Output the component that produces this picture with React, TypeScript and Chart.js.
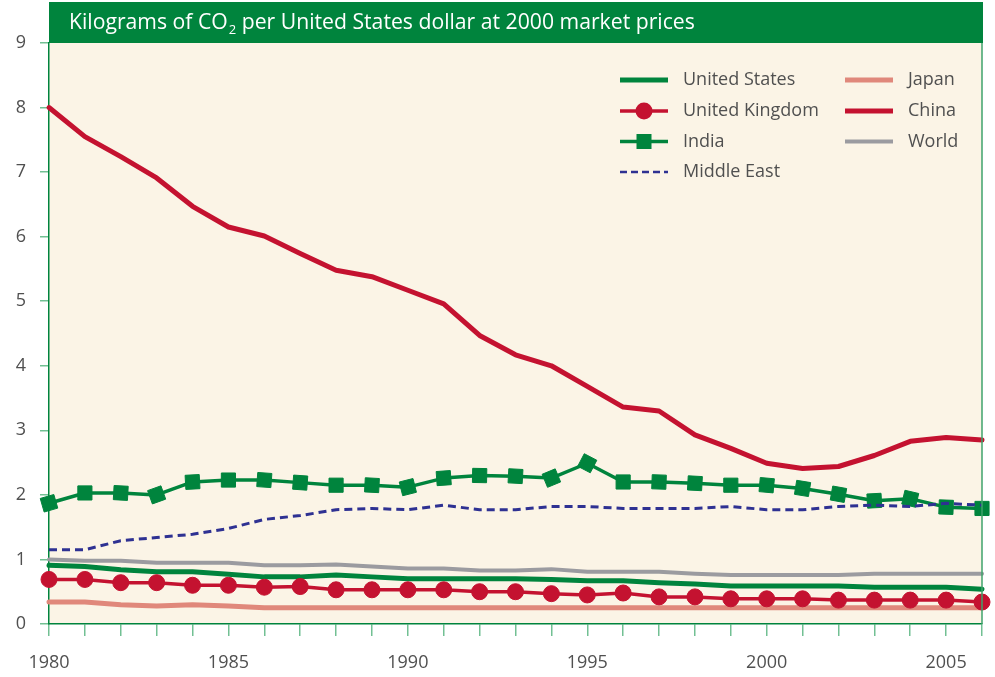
import React, { useEffect, useRef } from "react";
import { Chart, registerables } from "chart.js";

Chart.register(...registerables);

const years = [
  "1980", "1981", "1982", "1983", "1984", "1985", "1986", "1987", "1988", "1989",
  "1990", "1991", "1992", "1993", "1994", "1995", "1996", "1997", "1998", "1999",
  "2000", "2001", "2002", "2003", "2004", "2005", "2006",
];
const yTicks = [0, 1, 2, 3, 4, 5, 6, 7, 8, 9];

const unitedStates = [0.91, 0.89, 0.84, 0.81, 0.81, 0.77, 0.73, 0.73, 0.76, 0.73, 0.70, 0.70, 0.70, 0.70, 0.69, 0.67, 0.67, 0.64, 0.62, 0.59, 0.59, 0.59, 0.59, 0.57, 0.57, 0.57, 0.54];
const unitedKingdom = [0.69, 0.69, 0.64, 0.64, 0.60, 0.60, 0.57, 0.58, 0.53, 0.53, 0.53, 0.53, 0.50, 0.50, 0.47, 0.45, 0.48, 0.42, 0.42, 0.39, 0.39, 0.39, 0.37, 0.37, 0.37, 0.37, 0.34];
const india = [1.87, 2.03, 2.03, 2.00, 2.20, 2.23, 2.23, 2.19, 2.15, 2.15, 2.12, 2.26, 2.30, 2.29, 2.26, 2.49, 2.20, 2.20, 2.18, 2.15, 2.15, 2.10, 2.01, 1.91, 1.94, 1.81, 1.79];
const middleEast = [1.15, 1.15, 1.29, 1.34, 1.39, 1.48, 1.62, 1.68, 1.77, 1.79, 1.77, 1.84, 1.77, 1.77, 1.82, 1.82, 1.79, 1.79, 1.79, 1.82, 1.77, 1.77, 1.82, 1.84, 1.82, 1.87, 1.84];
const japan = [0.34, 0.34, 0.30, 0.28, 0.30, 0.28, 0.25, 0.25, 0.25, 0.25, 0.25, 0.25, 0.25, 0.25, 0.25, 0.25, 0.25, 0.25, 0.25, 0.25, 0.25, 0.25, 0.25, 0.25, 0.25, 0.25, 0.25];
const china = [8.00, 7.55, 7.24, 6.91, 6.47, 6.15, 6.01, 5.74, 5.48, 5.38, 5.17, 4.96, 4.47, 4.17, 4.00, 3.68, 3.36, 3.30, 2.93, 2.72, 2.49, 2.41, 2.44, 2.61, 2.83, 2.89, 2.85];
const world = [1.00, 0.98, 0.98, 0.95, 0.95, 0.95, 0.91, 0.91, 0.92, 0.89, 0.86, 0.86, 0.83, 0.83, 0.85, 0.81, 0.81, 0.81, 0.78, 0.76, 0.76, 0.76, 0.76, 0.78, 0.78, 0.78, 0.78];

const titleMain = "Kilograms of CO";
const titleSub = "2";
const titleRest = " per United States dollar at 2000 market prices";

const GREEN = "#00843D";
const RED = "#C41230";
const SALMON = "#E0887B";
const GREY = "#9B9BA0";
const NAVY = "#2E3192";
const TICK_GREEN = "#72C093";
const CREAM = "#FBF4E6";
const TEXT = "#505050";
const FONT = "'Open Sans', 'Noto Sans', sans-serif";

type LegendItem = {
  label: string;
  color: string;
  width: number;
  dash?: number[];
  marker?: "circle" | "square";
};

const legendCol1: LegendItem[] = [
  { label: "United States", color: GREEN, width: 5 },
  { label: "United Kingdom", color: RED, width: 3.5, marker: "circle" },
  { label: "India", color: GREEN, width: 3.5, marker: "square" },
  { label: "Middle East", color: NAVY, width: 2.5, dash: [7, 4] },
];
const legendCol2: LegendItem[] = [
  { label: "Japan", color: SALMON, width: 5 },
  { label: "China", color: RED, width: 5 },
  { label: "World", color: GREY, width: 4 },
];

const framePlugin = {
  id: "frame",
  beforeDraw(chart: any) {
    const { ctx, chartArea } = chart;
    ctx.save();
    ctx.fillStyle = CREAM;
    ctx.fillRect(chartArea.left, chartArea.top, chartArea.right - chartArea.left, chartArea.bottom - chartArea.top);
    // title bar
    ctx.fillStyle = GREEN;
    ctx.fillRect(chartArea.left, 2, chartArea.right - chartArea.left + 1, chartArea.top - 2);
    ctx.fillStyle = "#ffffff";
    ctx.textBaseline = "middle";
    ctx.textAlign = "left";
    const ty = (2 + chartArea.top) / 2;
    let tx = chartArea.left + 20;
    ctx.font = `21.2px ${FONT}`;
    ctx.fillText(titleMain, tx, ty);
    tx += ctx.measureText(titleMain).width;
    ctx.font = `13px ${FONT}`;
    ctx.fillText(titleSub, tx + 1, ty + 8);
    tx += ctx.measureText(titleSub).width + 1;
    ctx.font = `21.2px ${FONT}`;
    ctx.fillText(titleRest, tx, ty);
    ctx.restore();
  },
  afterDraw(chart: any) {
    const { ctx, chartArea } = chart;
    ctx.save();
    // right border
    ctx.strokeStyle = "#3FA36B";
    ctx.lineWidth = 1.5;
    ctx.beginPath();
    ctx.moveTo(chartArea.right, chartArea.top);
    ctx.lineTo(chartArea.right, chartArea.bottom);
    ctx.stroke();

    // legend
    const drawItem = (it: LegendItem, x0: number, x1: number, tx: number, y: number) => {
      ctx.save();
      ctx.strokeStyle = it.color;
      ctx.lineWidth = it.width;
      ctx.setLineDash(it.dash || []);
      ctx.beginPath();
      ctx.moveTo(x0, y);
      ctx.lineTo(x1, y);
      ctx.stroke();
      ctx.setLineDash([]);
      const cx = (x0 + x1) / 2;
      if (it.marker === "circle") {
        ctx.fillStyle = it.color;
        ctx.beginPath();
        ctx.arc(cx, y, 8.5, 0, Math.PI * 2);
        ctx.fill();
      } else if (it.marker === "square") {
        ctx.fillStyle = it.color;
        ctx.fillRect(cx - 7.5, y - 7.5, 15, 15);
      }
      ctx.fillStyle = TEXT;
      ctx.font = `18px ${FONT}`;
      ctx.textAlign = "left";
      ctx.textBaseline = "middle";
      ctx.fillText(it.label, tx, y);
      ctx.restore();
    };
    const rowY = [80, 111, 141.5, 172];
    legendCol1.forEach((it, i) => drawItem(it, 620, 668, 683, rowY[i]));
    legendCol2.forEach((it, i) => drawItem(it, 845, 893, 908, rowY[i]));
    ctx.restore();
  },
};

function outgoingAngle(ctx: any, data: number[]) {
  const i = ctx.dataIndex;
  if (i >= data.length - 1) return 0;
  const xs = ctx.chart.scales.x;
  const ys = ctx.chart.scales.y;
  if (!xs || !ys) return 0;
  const dx = xs.getPixelForValue(i + 1) - xs.getPixelForValue(i);
  const dy = ys.getPixelForValue(data[i + 1]) - ys.getPixelForValue(data[i]);
  return (Math.atan2(dy, dx) * 180) / Math.PI;
}

export default function App() {
  const canvasRef = useRef<HTMLCanvasElement | null>(null);

  useEffect(() => {
    if (!canvasRef.current) return;
    Chart.defaults.font.family = FONT;
    const line = (label: string, data: number[], color: string, width: number, order: number, extra: any = {}) => ({
      label,
      data,
      borderColor: color,
      backgroundColor: color,
      borderWidth: width,
      pointRadius: 0,
      tension: 0,
      fill: false,
      order,
      clip: false as any,
      borderCapStyle: "round" as const,
      borderJoinStyle: "round" as const,
      ...extra,
    });
    const chart = new Chart(canvasRef.current, {
      type: "line",
      data: {
        labels: years,
        datasets: [
          line("Japan", japan, SALMON, 5, 7),
          line("World", world, GREY, 4, 6),
          line("United States", unitedStates, GREEN, 5, 5),
          line("China", china, RED, 5, 4),
          line("India", india, GREEN, 3.5, 3, {
            pointRadius: 10,
            pointStyle: "rect",
            pointBorderWidth: 1,
            pointBorderColor: GREEN,
            pointBackgroundColor: GREEN,
            pointRotation: (c: any) => outgoingAngle(c, india),
          }),
          line("United Kingdom", unitedKingdom, RED, 3.5, 2, {
            pointRadius: 8,
            pointStyle: "circle",
            pointBorderWidth: 1,
            pointBorderColor: RED,
            pointBackgroundColor: RED,
          }),
          line("Middle East", middleEast, NAVY, 3, 1, {
            borderDash: [8, 5],
            borderCapStyle: "butt",
          }),
        ],
      },
      options: {
        responsive: false,
        animation: false,
        events: [],
        layout: { padding: { top: 43, right: 1, left: 0, bottom: 0 } },
        plugins: {
          legend: { display: false },
          tooltip: { enabled: false },
          title: { display: false },
        },
        scales: {
          x: {
            type: "category",
            offset: false,
            afterFit: (s: any) => {
              s.height = 53;
            },
            grid: {
              display: true,
              drawOnChartArea: false,
              drawTicks: true,
              tickLength: 12,
              color: TICK_GREEN,
              lineWidth: 1.5,
            },
            border: { display: true, color: GREEN, width: 1.5 },
            ticks: {
              autoSkip: false,
              maxRotation: 0,
              minRotation: 0,
              padding: 16,
              color: TEXT,
              font: { size: 18, family: FONT },
              callback: (_v: any, idx: number) => (Number(years[idx]) % 5 === 0 ? years[idx] : ""),
            },
          },
          y: {
            type: "linear",
            min: yTicks[0],
            max: yTicks[yTicks.length - 1],
            afterFit: (s: any) => {
              s.width = 49;
            },
            afterBuildTicks: (s: any) => {
              s.ticks = yTicks.map((v) => ({ value: v }));
            },
            grid: {
              display: true,
              drawOnChartArea: false,
              drawTicks: true,
              tickLength: 9,
              color: TICK_GREEN,
              lineWidth: 1.5,
            },
            border: { display: true, color: GREEN, width: 1.5 },
            ticks: {
              padding: 14,
              color: TEXT,
              font: { size: 18, family: FONT },
              callback: (v: any) => String(v),
            },
          },
        },
      },
      plugins: [framePlugin],
    });
    return () => chart.destroy();
  }, []);

  return (
    <div style={{ position: "absolute", left: 0, top: 0, width: 995, height: 677, overflow: "hidden", background: "#ffffff" }}>
      <canvas ref={canvasRef} width={998} height={677} style={{ display: "block" }} />
    </div>
  );
}
